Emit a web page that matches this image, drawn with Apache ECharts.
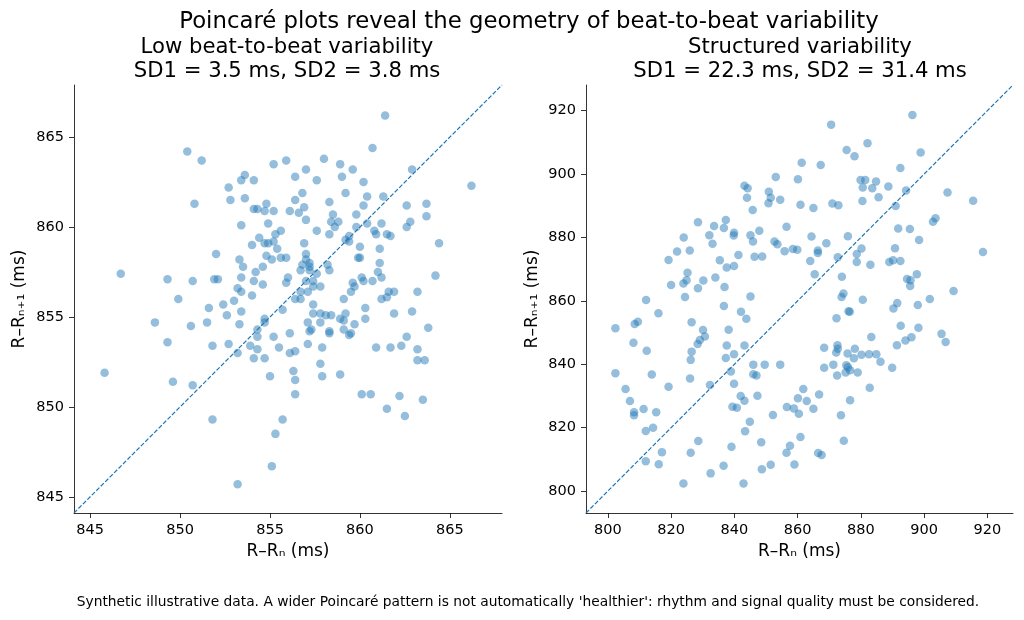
<!DOCTYPE html>
<html><head><meta charset="utf-8">
<script src="https://cdn.jsdelivr.net/npm/echarts@6/dist/echarts.min.js"></script>
<style>html,body{margin:0;padding:0;background:#fff}#c{width:1024px;height:620px}</style>
</head><body><div id="c"></div>
<script>
// ---- data (R-Rn, R-Rn+1) in ms ----
const lowVariability = [
[850.4,864.2],[851.2,863.7],[855.2,863.5],[855.9,863.7],[853.6,862.9],[853.4,862.6],[854.1,862.6],[852.7,862.2],
[852.8,861.5],[853.6,861.6],[850.8,861.3],[854.1,861.0],[854.3,861.0],[854.8,861.3],[854.7,860.9],[855.2,860.9],
[856.1,860.9],[853.4,860.1],[854.9,860.2],[855.6,859.8],[855.3,859.6],[854.4,859.4],[854.0,859.0],[854.7,859.1],
[854.9,859.1],[855.2,859.2],[855.4,858.8],[852.0,858.5],[854.8,858.4],[855.1,858.2],[855.6,858.3],[855.9,858.3],
[853.3,858.2],[853.5,857.8],[854.6,857.8],[854.2,857.5],[846.7,857.4],[849.3,857.1],[850.7,857.0],[851.9,857.1],
[852.1,857.1],[853.4,857.2],[854.1,857.0],[854.6,856.8],[856.0,857.2],[855.9,856.9],[853.2,856.6],[853.4,856.4],
[854.0,856.2],[849.9,856.0],[853.0,855.9],
[851.6,855.5],[852.4,855.7],[853.4,855.3],[852.6,855.1],[855.7,855.4],[848.6,854.7],[850.6,854.5],[851.5,854.7],
[853.3,854.6],[854.7,854.9],[854.7,854.7],[854.3,854.3],[854.3,853.9],[855.2,853.9],[856.1,854.1],[849.3,853.6],
[851.8,853.4],[852.7,853.5],[853.9,853.4],[853.2,853.0],[854.3,853.2],[855.5,853.3],[854.1,852.7],[854.7,852.7],
[856.1,853.0],[845.8,851.9],[849.6,851.4],[850.7,851.2],[855.0,851.7],[851.8,849.3],[855.7,849.3],[855.3,848.5],
[855.1,846.7],[853.2,845.7],
[861.4,866.2],[860.7,864.4],[858.0,863.8],[858.9,863.5],[857.0,863.2],[856.4,862.8],[859.0,862.8],[859.6,863.2],
[857.6,862.6],[860.2,862.5],[862.9,863.2],[866.2,862.3],[856.8,861.9],[856.4,861.5],[858.3,861.4],[859.2,861.9],
[860.4,861.7],[861.3,861.7],[856.9,861.1],[856.6,860.8],[857.0,860.4],[858.5,860.7],[860.2,861.2],[859.8,860.7],
[858.4,860.3],[858.8,860.3],[858.6,860.0],[857.6,859.8],[858.3,859.6],[859.8,860.0],[860.4,860.2],[861.2,860.2],
[862.6,861.2],[863.7,861.3],[862.8,860.3],[862.6,860.0],[863.7,860.6],[860.8,859.8],[860.9,859.6],[861.5,859.6],
[861.7,859.5],[859.4,859.5],[859.2,859.3],[859.4,859.2],[856.9,859.1],[860.0,858.9],[861.1,858.8],[864.4,859.1],
[857.0,858.5],[857.0,858.2],[856.8,857.9],[857.2,858.0],[857.2,857.8],[856.7,857.6],[857.2,857.6],[857.6,857.4],
[857.0,857.0],[857.4,857.0],[857.4,856.7],[857.8,856.7],[857.1,856.4],[856.7,856.4],[859.9,858.3],[860.0,858.3],
[861.1,858.0],[858.2,857.9],[858.3,857.6],[861.0,857.5],[861.2,857.2],[860.1,857.2],[860.2,857.0],[860.7,857.0],
[859.6,856.9],[859.7,856.7],[859.5,856.4],[864.2,857.3],[861.6,856.4],[861.9,856.4],[863.2,856.4],[859.1,856.0],
[861.2,856.0],[861.5,856.1],[856.4,856.0],[856.7,856.0],
[857.4,855.7],[857.4,855.2],[857.8,855.2],[858.1,855.1],[858.4,855.1],[858.9,854.9],[859.2,855.2],[859.1,854.8],
[859.7,854.6],[860.3,855.5],[860.3,854.9],[861.9,855.2],[862.9,855.3],[863.8,854.4],[857.1,854.7],[857.8,854.7],
[857.2,854.2],[857.3,854.3],[858.3,854.2],[858.3,854.1],[859.1,854.3],[859.5,854.1],[859.4,854.0],[857.1,853.5],
[856.4,853.1],[857.9,853.3],[860.9,853.3],[861.7,853.3],[862.3,853.4],[862.6,853.9],[863.2,853.2],[863.2,852.6],
[863.6,852.6],[856.3,852.0],[856.4,851.5],[857.8,852.4],[857.9,851.7],[858.9,851.8],[856.4,850.7],[860.1,850.7],
[860.6,850.7],[862.2,850.6],[861.5,849.9],[862.5,849.5],[863.5,850.4]
];
const structuredVariability = [
[861.3,903.6],[853.1,899.1],[860.1,898.4],[860.9,890.3],[843.2,896.3],[844.2,895.5],[844.0,892.5],[850.9,894.4],
[851.5,892.5],[850.8,890.8],[854.5,891.9],[845.8,888.7],[856.5,883.4],[828.5,884.8],[837.3,885.5],[833.6,883.6],
[836.7,883.0],[839.9,881.5],[839.8,880.6],[832.1,880.7],[833.1,878.0],[824.0,880.0],[845.1,880.7],[845.9,878.7],
[847.9,882.1],[852.7,878.7],[853.6,877.9],[855.9,875.7],[858.5,876.4],[859.9,876.1],[821.9,875.6],[825.9,875.9],
[819.2,872.9],[841.3,874.5],[846.4,873.9],[848.8,874.0],[835.4,872.8],[837.6,870.5],[839.9,871.0],[825.2,868.9],
[824.9,866.5],[823.9,865.5],[820.0,865.0],[830.2,866.4],[834.0,867.4],[828.5,864.0],[836.9,864.4],[812.1,860.3],
[824.4,861.2],[845.1,861.4],
[896.3,918.6],[870.6,915.6],[882.1,909.7],[875.5,907.6],[878.0,905.6],[898.9,906.8],[867.3,902.9],[892.5,901.9],
[879.9,898.1],[881.4,898.1],[884.8,897.7],[880.6,895.8],[883.6,895.5],[888.7,896.1],[885.6,892.7],[880.5,891.5],
[894.3,894.8],[907.4,894.2],[865.0,889.3],[871.0,890.7],[872.9,890.2],[891.0,889.9],[915.5,891.6],[902.8,885.0],
[903.6,886.1],[891.8,882.8],[895.5,882.7],[898.4,879.2],[864.4,880.3],[875.9,880.4],[869.1,878.2],[866.4,875.9],
[866.4,875.1],[864.0,872.6],[872.7,873.8],[878.7,874.8],[880.2,876.5],[878.7,872.3],[883.0,871.4],[890.8,876.6],
[889.0,872.3],[890.2,872.8],[892.5,872.6],[918.6,875.4],[865.4,868.4],[874.0,867.6],[894.6,866.9],[895.7,866.5],
[897.7,868.4],[895.6,864.7],[909.3,863.1],[874.5,862.3],[873.9,861.2],[880.6,860.4],[901.8,860.6],
[836.7,858.4],[842.1,856.6],[843.8,854.4],[816.0,856.1],[802.4,851.4],[808.5,852.7],[809.5,853.4],[826.5,853.3],
[830.1,850.8],[830.7,848.8],[829.1,847.7],[828.4,846.4],[838.2,850.9],[808.1,846.8],[812.3,844.3],[826.5,844.0],
[826.2,841.4],[837.6,845.9],[843.2,845.9],[839.9,843.2],[837.3,842.0],[846.0,839.9],[849.6,839.9],[854.5,839.9],
[802.4,837.2],[813.9,836.8],[826.0,835.5],[838.9,837.7],[846.0,836.9],[847.0,836.5],[839.9,833.9],[832.3,833.5],
[819.2,832.9],[805.6,832.2],[807.0,828.4],[842.0,830.0],[843.2,828.5],[847.3,830.1],[839.4,826.6],[840.8,826.3],
[808.3,824.9],[808.3,823.9],[811.3,825.9],[815.3,824.9],[852.2,824.0],[856.6,826.5],[858.8,826.1],[860.1,829.3],
[860.4,824.4],[861.8,832.2],[814.3,820.0],[812.0,819.0],[844.9,821.9],[843.4,818.9],[828.6,815.8],[839.1,814.0],
[848.5,815.4],[860.9,817.1],[857.6,814.3],[856.5,812.1],[817.1,812.3],[826.2,812.1],[812.0,809.4],[816.1,808.5],
[836.6,808.0],[832.5,805.6],[851.5,808.3],[848.7,806.9],[859.0,808.4],[823.9,802.4],[842.9,802.4],
[891.5,859.3],[890.3,857.6],[898.0,858.7],[872.3,854.5],[876.1,856.7],[876.5,856.6],[892.6,852.2],[898.2,851.5],
[883.3,848.6],[891.4,846.0],[894.1,847.5],[896.0,848.5],[905.5,849.6],[906.8,847.0],[868.4,845.2],[872.6,846.0],
[872.7,844.9],[872.2,843.7],[875.8,843.4],[878.1,844.9],[877.8,841.9],[880.2,843.0],[882.6,843.2],[884.9,843.2],
[886.2,840.8],[889.9,838.9],[868.4,838.9],[871.3,839.9],[875.4,839.7],[875.9,839.1],[872.5,836.5],[875.2,837.4],
[876.6,838.1],[879.0,837.4],[882.8,832.6],[866.8,830.5],[862.9,828.4],[865.0,826.0],[876.6,828.7],[873.7,823.9],
[874.6,815.9],[866.5,812.0],[867.6,811.4]
];
const lowLimits = [844.1, 867.9];
const structuredLimits = [793.1, 928.1];
const lowTicks = [845, 850, 855, 860, 865];
const structuredTicks = [800, 820, 840, 860, 880, 900, 920];
const suptitle = 'Poincaré plots reveal the geometry of beat-to-beat variability';
const panelTitles = [
  ['Low beat-to-beat variability', 'SD1 = 3.5 ms, SD2 = 3.8 ms'],
  ['Structured variability', 'SD1 = 22.3 ms, SD2 = 31.4 ms']
];
const xName = 'R–Rₙ (ms)';
const yName = 'R–Rₙ₊₁ (ms)';
const footnote = "Synthetic illustrative data. A wider Poincaré pattern is not automatically 'healthier': rhythm and signal quality must be considered.";

// ---- chart ----
const FONT = '"DejaVu Sans", sans-serif';
const BLUE = '#1f77b4';
function makeAxis(gridIndex, limits, ticks, name, gap) {
  return {
    type: 'value', gridIndex: gridIndex, min: limits[0], max: limits[1],
    name: name, nameLocation: 'middle', nameGap: gap,
    nameTextStyle: {fontFamily: FONT, fontSize: 17, color: '#000'},
    axisLine: {show: true, onZero: false, lineStyle: {color: '#000', width: 0.8}},
    axisTick: {show: true, length: 5, customValues: ticks, lineStyle: {color: '#000', width: 0.8}},
    axisLabel: {show: true, customValues: ticks, fontFamily: FONT, fontSize: 14.5, color: '#000', margin: 10},
    splitLine: {show: false}
  };
}
function panelSeries(idx, points, limits) {
  return [
    {type: 'scatter', xAxisIndex: idx, yAxisIndex: idx, data: points, symbolSize: 8.5,
     itemStyle: {color: 'rgba(31,119,180,0.6)'}, silent: true, z: 2},
    {type: 'line', xAxisIndex: idx, yAxisIndex: idx, data: [[limits[0], limits[0]], [limits[1], limits[1]]],
     symbol: 'none', silent: true, z: 3,
     lineStyle: {color: BLUE, width: 1.2, type: [4.4, 1.9]}}
  ];
}
const chart = echarts.init(document.getElementById('c'), null, {renderer: 'canvas'});
const txt = (s, x, y, size) => ({type: 'text', x: x, y: y, silent: true,
  style: {text: s, font: size + 'px ' + FONT, fill: '#000', align: 'center', verticalAlign: 'middle'}});
chart.setOption({
  animation: false,
  backgroundColor: '#fff',
  grid: [
    {left: 74, top: 85, width: 428, height: 428},
    {left: 586, top: 85, width: 427, height: 428}
  ],
  xAxis: [
    makeAxis(0, lowLimits, lowTicks, xName, 30),
    makeAxis(1, structuredLimits, structuredTicks, xName, 30)
  ],
  yAxis: [
    makeAxis(0, lowLimits, lowTicks, yName, 46),
    makeAxis(1, structuredLimits, structuredTicks, yName, 44.5)
  ],
  series: panelSeries(0, lowVariability, lowLimits).concat(panelSeries(1, structuredVariability, structuredLimits)),
  graphic: [
    txt(suptitle, 529, 22.5, 22.8),
    txt(panelTitles[0][0], 287, 47, 21.2),
    txt(panelTitles[0][1], 287, 71, 21.2),
    txt(panelTitles[1][0], 800, 47, 21.2),
    txt(panelTitles[1][1], 800, 71, 21.2),
    txt(footnote, 528, 602, 13.8)
  ]
});
</script>
</body></html>
